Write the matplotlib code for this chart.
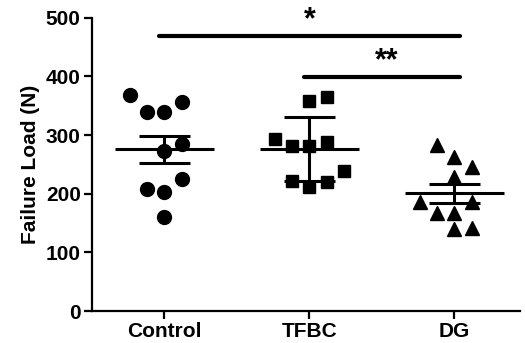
import matplotlib.pyplot as plt
import numpy as np

# %% Data
groups = ["Control", "TFBC", "DG"]
control = [368, 340, 340, 357, 285, 273, 225, 208, 203, 160]
tfbc = [358, 365, 293, 281, 281, 288, 239, 222, 212, 220]
dg = [283, 263, 246, 229, 186, 186, 167, 167, 140, 142]

# column slot of each point (scatter layout)
control_col = [-2, -1, 0, 1, 1, 0, 1, -1, 0, 0]
tfbc_col = [0, 1, -2, -1, 0, 1, 2, -1, 0, 1]
dg_col = [-1, 0, 1, 0, -2, 1, -1, 0, 0, 1]

# error bar type per group
err_type = ["sem", "sd", "sem"]

# significance brackets: (group a, group b, y, label)
sig = [(0, 2, 469, "*"), (1, 2, 399, "**")]

# %% Plot
plt.rcParams["font.family"] = ["Liberation Sans", "DejaVu Sans"]
plt.rcParams["font.weight"] = "bold"

fig = plt.figure(figsize=(5.25, 3.43), dpi=100)
ax = fig.add_axes([0.175, 0.093, 0.815, 0.855])

values = [control, tfbc, dg]
cols = [control_col, tfbc_col, dg_col]
markers = ["o", "s", "^"]
msizes = [10, 9, 10]
step = 0.12

for i, (vals, col, m, ms) in enumerate(zip(values, cols, markers, msizes)):
    vals = np.array(vals, dtype=float)
    x = i + step * np.array(col)
    ax.plot(x, vals, ls="none", marker=m, ms=ms, color="black", zorder=3, clip_on=False)
    mean = vals.mean()
    sd = vals.std(ddof=1)
    err = sd if err_type[i] == "sd" else sd / np.sqrt(len(vals))
    ax.hlines(mean, i - 0.34, i + 0.34, color="black", lw=2.2, zorder=4)
    ax.hlines([mean - err, mean + err], i - 0.175, i + 0.175, color="black", lw=2.2, zorder=4)
    ax.vlines(i, mean - err, mean + err, color="black", lw=2.2, zorder=4)

for a, b, y, lab in sig:
    ax.plot([a - 0.035, b + 0.035], [y, y], color="black", lw=3, solid_capstyle="round", clip_on=False)
    ax.text((a + b) / 2 + (0 if b - a > 1 else 0.03), y + 2, lab, ha="center", va="bottom",
            fontsize=22, fontweight="bold", clip_on=False)

ax.set_xlim(-0.5, 2.45)
ax.set_ylim(0, 500)
ax.set_yticks([0, 100, 200, 300, 400, 500])
ax.set_xticks(range(len(groups)))
ax.set_xticklabels(groups)
ax.set_ylabel("Failure Load (N)", fontsize=15, fontweight="bold", labelpad=4)

for s in ["top", "right"]:
    ax.spines[s].set_visible(False)
for s in ["left", "bottom"]:
    ax.spines[s].set_linewidth(1.6)
ax.tick_params(axis="both", width=1.6, length=6, labelsize=15, pad=2)
for t in ax.get_xticklabels() + ax.get_yticklabels():
    t.set_fontweight("bold")

fig.savefig("out.png", dpi=100)
